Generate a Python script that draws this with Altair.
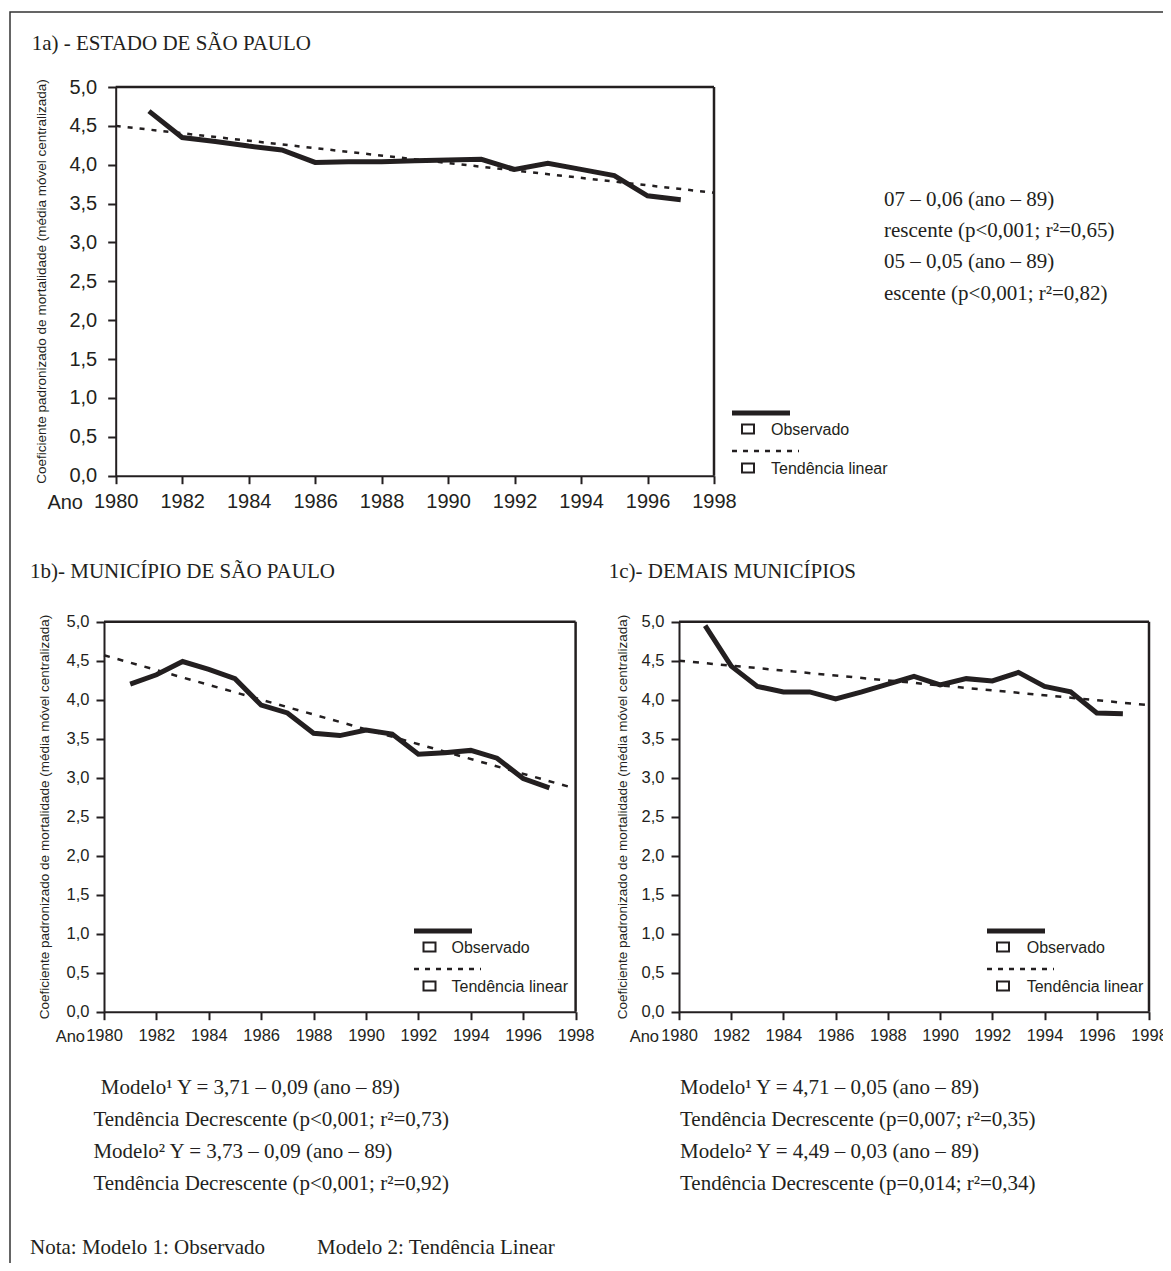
import altair as alt
import pandas as pd

# ---------------- data ----------------
years = list(range(1981, 1998))
obs_estado = [4.69, 4.35, 4.30, 4.24, 4.19, 4.03, 4.04, 4.04, 4.05, 4.06, 4.07,
              3.94, 4.02, 3.94, 3.86, 3.60, 3.55]
obs_municipio = [4.20, 4.32, 4.49, 4.39, 4.27, 3.93, 3.83, 3.57, 3.54, 3.61, 3.56,
                 3.30, 3.32, 3.35, 3.25, 2.99, 2.87]
obs_demais = [4.95, 4.43, 4.17, 4.10, 4.10, 4.01, 4.10, 4.20, 4.30, 4.19, 4.27,
              4.24, 4.35, 4.17, 4.10, 3.83, 3.82]
trend_years = [1980, 1998]
trend_estado = [4.50, 3.64]
trend_municipio = [4.57, 2.86]
trend_demais = [4.50, 3.93]
x_ticks = list(range(1980, 1999, 2))
y_ticks = [0.0, 0.5, 1.0, 1.5, 2.0, 2.5, 3.0, 3.5, 4.0, 4.5, 5.0]

title_a = "1a) - ESTADO DE SÃO PAULO"
title_b = "1b)- MUNICÍPIO DE SÃO PAULO"
title_c = "1c)- DEMAIS MUNICÍPIOS"
y_title = "Coeficiente padronizado de mortalidade (média móvel centralizada)"
text_a = ["07 – 0,06 (ano – 89)", "rescente (p<0,001; r²=0,65)",
          "05 – 0,05 (ano – 89)", "escente (p<0,001; r²=0,82)"]
text_b = ["Modelo¹ Y = 3,71 – 0,09 (ano – 89)", "Tendência Decrescente (p<0,001; r²=0,73)",
          "Modelo² Y = 3,73 – 0,09 (ano – 89)", "Tendência Decrescente (p<0,001; r²=0,92)"]
text_c = ["Modelo¹ Y = 4,71 – 0,05 (ano – 89)", "Tendência Decrescente (p=0,007; r²=0,35)",
          "Modelo² Y = 4,49 – 0,03 (ano – 89)", "Tendência Decrescente (p=0,014; r²=0,34)"]
nota = ["Nota: Modelo 1: Observado", "Modelo 2: Tendência Linear"]
legend_labels = ["Observado", "Tendência linear"]

# ---------------- styling ----------------
INK = "#231f20"
SERIF = "Liberation Serif"
SANS = "Liberation Sans"
M = 8            # page margin
W, H = 1155, 1255
one = pd.DataFrame({"k": [0]})


def panel(obs, trend, px, py, lab_size, xpad, ypad, dash):
    xs = alt.Scale(domain=[1980, 1998], range=[px[0] - M, px[1] - M], nice=False, zero=False)
    ys = alt.Scale(domain=[0, 5], range=[py[0] - M, py[1] - M], nice=False, zero=False)
    common = dict(grid=False, title=None, domainColor=INK, domainWidth=2,
                  tickColor=INK, tickWidth=2, tickSize=8, labelColor=INK,
                  labelFont=SANS, labelFontSize=lab_size,
                  labelOverlap=False, labelFlush=False)
    xaxis = alt.Axis(orient="bottom", offset=(py[0] - M) - H, values=x_ticks,
                     format="d", labelPadding=xpad, **common)
    yaxis = alt.Axis(orient="left", offset=-(px[0] - M), values=y_ticks,
                     labelExpr="replace(format(datum.value, '.1f'), '.', ',')",
                     labelPadding=ypad, **common)
    obs_df = pd.DataFrame({"ano": years, "valor": obs})
    tr_df = pd.DataFrame({"ano": trend_years, "valor": trend})
    top_df = pd.DataFrame({"a": [1980], "b": [1998], "v": [5.0]})
    right_df = pd.DataFrame({"a": [1998], "v0": [0.0], "v1": [5.0]})

    line = alt.Chart(obs_df).mark_line(color=INK, strokeWidth=5).encode(
        x=alt.X("ano:Q", scale=xs, axis=xaxis),
        y=alt.Y("valor:Q", scale=ys, axis=yaxis))
    tline = alt.Chart(tr_df).mark_line(color=INK, strokeWidth=2.5, strokeDash=dash).encode(
        x=alt.X("ano:Q", scale=xs, axis=xaxis),
        y=alt.Y("valor:Q", scale=ys, axis=yaxis))
    ftop = alt.Chart(top_df).mark_rule(color=INK, strokeWidth=2.5).encode(
        x=alt.X("a:Q", scale=xs, axis=xaxis), x2="b:Q",
        y=alt.Y("v:Q", scale=ys, axis=yaxis))
    fright = alt.Chart(right_df).mark_rule(color=INK, strokeWidth=2.5).encode(
        x=alt.X("a:Q", scale=xs, axis=xaxis),
        y=alt.Y("v0:Q", scale=ys, axis=yaxis), y2="v1:Q")
    return alt.layer(ftop, fright, tline, line)


def txt(s, x, y, size, font=SERIF, align="left", baseline="alphabetic", angle=0):
    return alt.Chart(pd.DataFrame({"t": [s]})).mark_text(
        align=align, baseline=baseline, font=font, fontSize=size, angle=angle,
        color=INK).encode(text="t:N", x=alt.value(x - M), y=alt.value(y - M))


def hrule(x0, x1, y, width, dash=None):
    kw = dict(color=INK, strokeWidth=width)
    if dash:
        kw["strokeDash"] = dash
    return alt.Chart(one).mark_rule(**kw).encode(
        x=alt.value(x0 - M), x2=alt.value(x1 - M), y=alt.value(y - M))


def box(cx, cy, w=12, h=9):
    return alt.Chart(one).mark_rect(fill="white", stroke=INK, strokeWidth=2).encode(
        x=alt.value(cx - w / 2 - M), x2=alt.value(cx + w / 2 - M),
        y=alt.value(cy - h / 2 - M), y2=alt.value(cy + h / 2 - M))


def legend(x0, y_line, x_box, x_txt, size, dash):
    return [
        hrule(x0, x0 + 58, y_line, 5),
        box(x_box, y_line + 16),
        txt(legend_labels[0], x_txt, y_line + 17, size, SANS, baseline="middle"),
        hrule(x0, x0 + 67, y_line + 38, 2.5, dash),
        box(x_box, y_line + 55),
        txt(legend_labels[1], x_txt, y_line + 56, size, SANS, baseline="middle"),
    ]


p_a = panel(obs_estado, trend_estado, (115.7, 714), (475.7, 87), 20, 8, 11, [5, 7])
p_b = panel(obs_municipio, trend_municipio, (104, 575.6), (1011.7, 621.7), 16.5, 8, 7, [6, 8])
p_c = panel(obs_demais, trend_demais, (679, 1149), (1011.7, 621.7), 16.5, 8, 7, [6, 8])

ann = []
# outer frame
ann.append(alt.Chart(one).mark_rect(filled=False, stroke="#333333", strokeWidth=1.5).encode(
    x=alt.value(10 - M), x2=alt.value(1200), y=alt.value(12 - M), y2=alt.value(1300)))
# titles
ann += [txt(title_a, 31.7, 50, 21), txt(title_b, 30, 578, 21), txt(title_c, 608.7, 578, 21)]
# y-axis titles
ann += [txt(y_title, 42, 281.5, 13.5, SANS, "center", "middle", 270),
        txt(y_title, 45, 817, 13.5, SANS, "center", "middle", 270),
        txt(y_title, 623, 817, 13.5, SANS, "center", "middle", 270)]
# "Ano"
ann += [txt("Ano", 83, 508.5, 20, SANS, "right"),
        txt("Ano", 85, 1042, 16.5, SANS, "right"),
        txt("Ano", 659, 1042, 16.5, SANS, "right")]
# model text (top right, partially cut)
for s, yb in zip(text_a, [206, 237, 268, 300]):
    ann.append(txt(s, 884, yb, 21))
# model text bottom
for i, (s, yb) in enumerate(zip(text_b, [1094, 1126, 1158, 1190])):
    ann.append(txt(s, 100.8 if i == 0 else 93.4, yb, 21))
for s, yb in zip(text_c, [1094, 1126, 1158, 1190]):
    ann.append(txt(s, 680, yb, 21))
ann += [txt(nota[0], 30, 1254, 21), txt(nota[1], 317, 1254, 21)]
# legends
ann += legend(732, 413, 748, 771, 16, [5, 6])
ann += legend(414, 931, 429.5, 451.5, 16, [5, 6])
ann += legend(987, 931, 1003, 1026.7, 16, [5, 6])

chart = alt.layer(p_a, p_b, p_c, *ann).resolve_scale(
    x="independent", y="independent"
).properties(
    width=W, height=H, padding=0,
    autosize=alt.AutoSizeParams(type="none"),
    background="white",
).configure_view(stroke=None)

chart.save("out.html", embed_options={"renderer": "svg", "actions": False})
